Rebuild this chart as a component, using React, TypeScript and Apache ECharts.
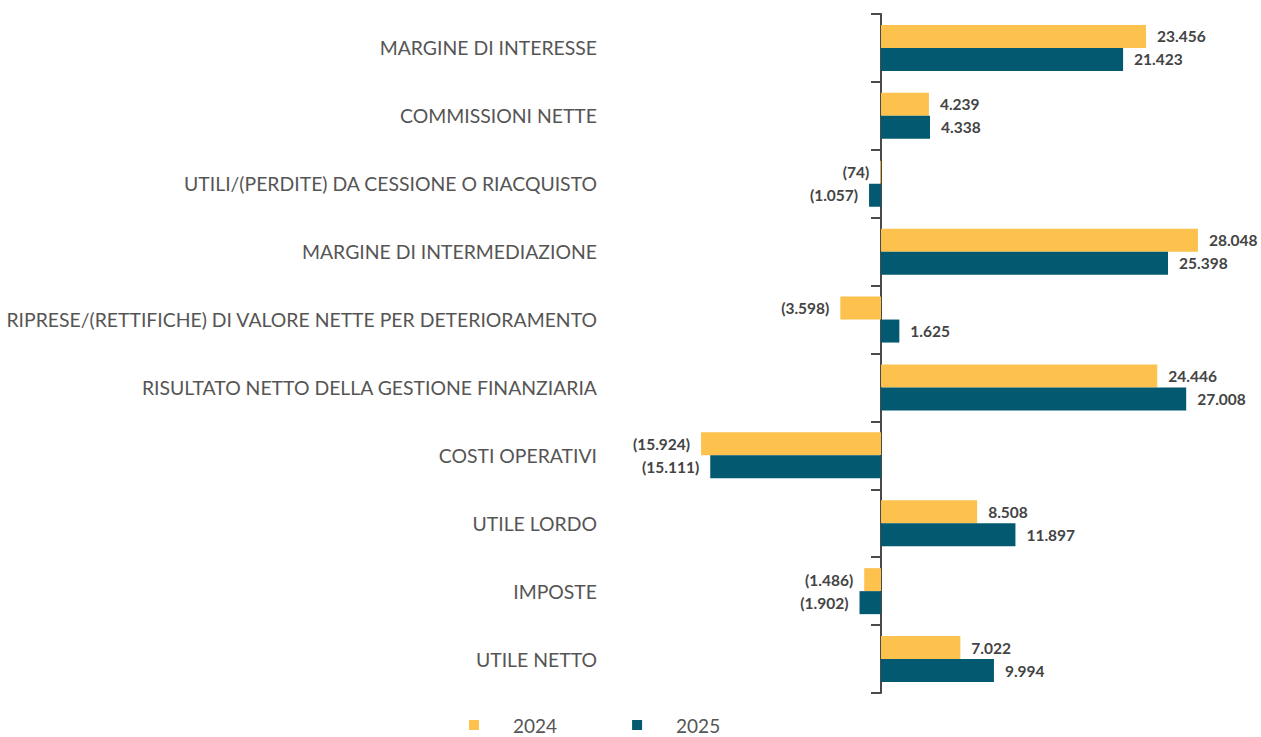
import React, { useEffect, useRef } from "react";
import * as echarts from "echarts";

const categories = [
  "MARGINE DI INTERESSE",
  "COMMISSIONI NETTE",
  "UTILI/(PERDITE) DA CESSIONE O RIACQUISTO",
  "MARGINE DI INTERMEDIAZIONE",
  "RIPRESE/(RETTIFICHE) DI VALORE NETTE PER DETERIORAMENTO",
  "RISULTATO NETTO DELLA GESTIONE FINANZIARIA",
  "COSTI OPERATIVI",
  "UTILE LORDO",
  "IMPOSTE",
  "UTILE NETTO",
];
const values2024 = [23456, 4239, -74, 28048, -3598, 24446, -15924, 8508, -1486, 7022];
const values2025 = [21423, 4338, -1057, 25398, 1625, 27008, -15111, 11897, -1902, 9994];
const seriesNames = ["2024", "2025"];
const colors = ["#FDC14E", "#03596F"];

function fmt(v: number): string {
  const s = String(Math.abs(v)).replace(/\B(?=(\d{3})+(?!\d))/g, ".");
  return v < 0 ? "(" + s + ")" : s;
}

function buildData(vals: number[]) {
  return vals.map((v) => ({
    value: v,
    label: { position: v < 0 ? "left" : "right" },
  }));
}

export default function App() {
  const ref = useRef<HTMLDivElement>(null);
  useEffect(() => {
    if (!ref.current) return;
    const chart = echarts.init(ref.current, undefined, { renderer: "svg" });
    const labelCfg = {
      show: true,
      distance: 11,
      fontFamily: "Lato, 'Noto Sans', sans-serif",
      fontWeight: "bold",
      fontSize: 15.5,
      color: "#444444",
      formatter: (p: any) => fmt(p.value),
    };
    chart.setOption({
      animation: false,
      legend: {
        left: 469,
        top: 715,
        padding: 0,
        icon: "rect",
        itemWidth: 10,
        itemHeight: 10,
        itemGap: 75,
        textStyle: {
          fontFamily: "Lato, sans-serif",
          fontSize: 19,
          lineHeight: 20,
          fontWeight: 400,
          color: "#555555",
          padding: [0, 0, 0, 29],
        },
        data: seriesNames,
      },
      grid: {
        left: 655,
        right: 41,
        top: 14,
        bottom: 44,
        containLabel: false,
        outerBoundsMode: "none",
      },
      xAxis: {
        type: "value",
        min: -20000,
        max: 30000,
        axisLine: { show: false },
        axisTick: { show: false },
        axisLabel: { show: false },
        splitLine: { show: false },
      },
      yAxis: {
        type: "category",
        inverse: true,
        data: categories,
        axisLine: { show: true, onZero: true, lineStyle: { color: "#4a4a4a", width: 2 } },
        axisTick: { show: true, length: 10, lineStyle: { color: "#4a4a4a", width: 2 } },
        axisLabel: {
          margin: 58,
          fontFamily: "Lato, sans-serif",
          fontSize: 19.4,
          fontWeight: 400,
          color: "#555555",
        },
      },
      series: [
        {
          name: seriesNames[0],
          type: "bar",
          data: buildData(values2024),
          barWidth: 23,
          barGap: "0%",
          itemStyle: { color: colors[0] },
          label: labelCfg,
        },
        {
          name: seriesNames[1],
          type: "bar",
          data: buildData(values2025),
          barWidth: 23,
          barGap: "0%",
          itemStyle: { color: colors[1] },
          label: labelCfg,
        },
      ],
    });
    return () => chart.dispose();
  }, []);
  return <div ref={ref} style={{ width: 1261, height: 737, position: "absolute", left: 0, top: 0 }} />;
}
